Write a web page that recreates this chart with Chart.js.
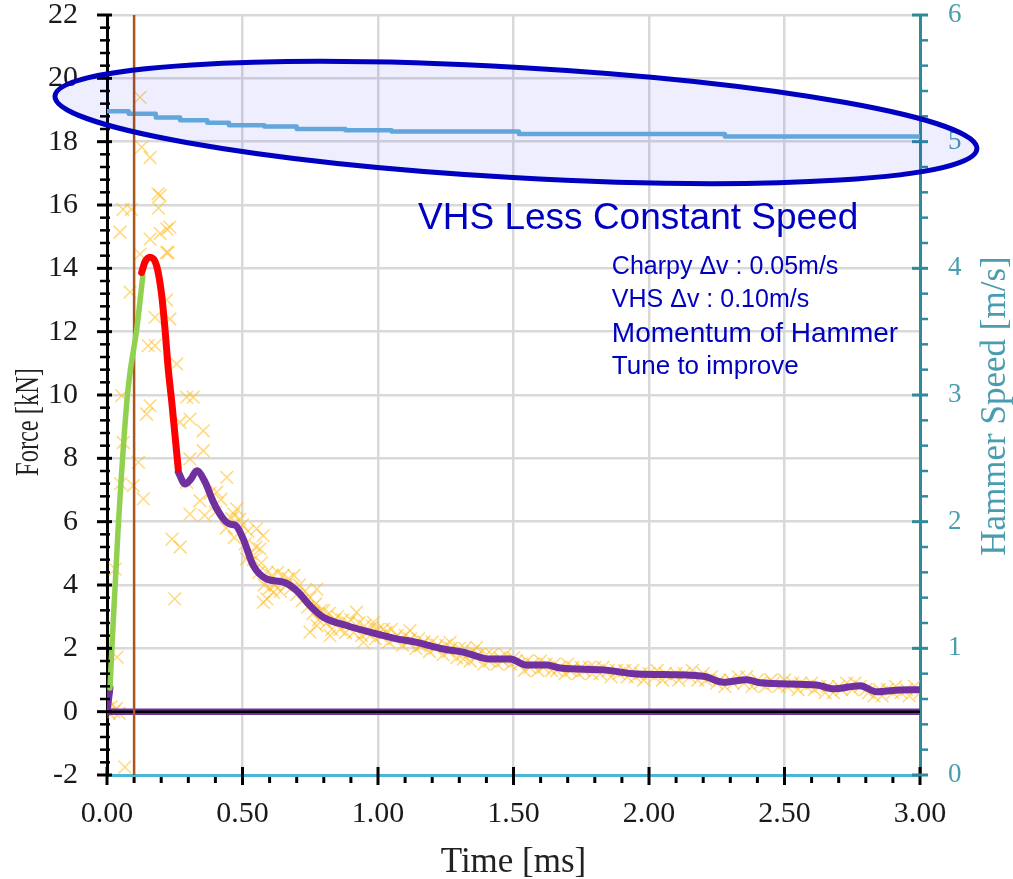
<!DOCTYPE html>
<html>
<head>
<meta charset="utf-8">
<script src="https://cdn.jsdelivr.net/npm/chart.js@4/dist/chart.umd.min.js"></script>
<style>
html,body{margin:0;padding:0;background:#fff;}
#wrap{width:1013px;height:879px;position:relative;}
</style>
</head>
<body>
<div id="wrap"><canvas id="c"></canvas></div>
<script>
// ---------- DATA ----------
const timeTicks = [0, 0.5, 1.0, 1.5, 2.0, 2.5, 3.0];
const forceRange = [-2, 22];
const speedRange = [0, 6];

// hammer speed (m/s) – level starts at given time (ms)
const speedT = [0, 0.08, 0.18, 0.27, 0.37, 0.45, 0.58, 0.70, 0.88, 1.05, 1.52, 2.28, 3.0];
const speedV = [5.24, 5.22, 5.19, 5.17, 5.15, 5.13, 5.12, 5.10, 5.09, 5.08, 5.06, 5.04, 5.04];

// fitted force curve segments (kN)
const purpleHeadT = [0, 0.011];
const purpleHeadF = [0, 0.75];
const greenT = [0.011, 0.018, 0.041, 0.074, 0.085, 0.11, 0.132];
const greenF = [0.75, 2.0, 5.77, 9.87, 10.7, 12.1, 13.75];
const redT = [0.128, 0.14, 0.159, 0.183, 0.202, 0.214, 0.226, 0.239, 0.251, 0.263];
const redF = [13.87, 14.2, 14.35, 14.08, 13.14, 12.08, 10.82, 9.78, 8.72, 7.66];
const purpleT = [0.263, 0.288, 0.31, 0.331, 0.362, 0.393, 0.430, 0.454, 0.475, 0.503, 0.540, 0.589, 0.651, 0.700, 0.749, 0.798, 0.884, 0.970, 1.069, 1.143, 1.241, 1.315, 1.339, 1.413, 1.487, 1.549, 1.623, 1.672, 1.832, 1.955, 2.200, 2.274, 2.361, 2.410, 2.619, 2.680, 2.779, 2.840, 2.914, 3.0];
const purpleF = [7.57, 7.19, 7.35, 7.61, 7.25, 6.61, 6.08, 5.92, 5.88, 5.45, 4.61, 4.19, 4.09, 3.82, 3.35, 2.98, 2.72, 2.51, 2.30, 2.19, 1.98, 1.88, 1.82, 1.66, 1.66, 1.47, 1.47, 1.38, 1.32, 1.19, 1.12, 0.93, 1.01, 0.91, 0.84, 0.72, 0.82, 0.63, 0.68, 0.69];

const zeroLineT = [0, 3.0];
const zeroLineF = [0, 0];
const markerT = [0.1, 0.1];
const markerF = [-2, 22];

// raw measured samples [time ms, force kN]
const rawEarly = [[0.002,0.1],[0.008,-0.05],[0.015,0.15],[0.025,0.0],[0.035,0.1],[0.045,-0.05],[0.037,1.72],[0.066,-1.75],
 [0.03,4.5],[0.05,7.2],[0.06,8.5],[0.048,15.14],[0.159,14.92],[0.22,14.5],[0.196,15.1],[0.22,13.0],[0.177,12.45],[0.232,12.4],
 [0.152,11.56],[0.177,11.56],[0.257,10.98],[0.085,13.25],[0.054,9.98],[0.159,9.66],[0.146,9.4],[0.294,9.93],[0.318,9.93],
 [0.306,9.24],[0.269,9.14],[0.355,8.87],[0.116,7.87],[0.097,7.14],[0.134,6.72],[0.306,7.98],[0.355,8.24],[0.294,7.24],
 [0.343,6.66],[0.306,6.24],[0.442,7.4],[0.405,6.93],[0.479,6.4],[0.468,6.24],[0.49,6.08],[0.122,19.4],[0.128,17.83],
 [0.159,17.5],[0.188,16.35],[0.196,16.3],[0.19,15.9],[0.059,15.86],[0.09,15.86],[0.221,15.24],[0.232,15.3],[0.225,14.5],
 [0.122,14.45],[0.24,5.45],[0.25,3.56],[0.27,5.2],[0.36,6.2],[0.38,6.9],[0.40,6.3],[0.42,6.7],[0.44,5.8],[0.46,6.1],[0.47,5.5]];
const rawMid = [[0.50,5.9],[0.51,5.3],[0.52,5.7],[0.53,5.0],[0.54,4.8],[0.55,5.2],[0.56,4.4],[0.57,4.7],[0.58,4.0],[0.59,4.4],
 [0.60,3.9],[0.61,4.3],[0.62,4.0],[0.63,4.4],[0.64,3.8],[0.65,4.3],[0.66,4.0],[0.67,4.2],[0.68,3.9],[0.69,4.3],[0.70,3.7],
 [0.71,4.0],[0.72,3.5],[0.73,3.8],[0.74,3.3],[0.75,3.6],[0.76,3.1],[0.77,3.4],[0.78,2.9],[0.79,3.2],
 [0.552,5.77],[0.576,5.56],[0.565,5.14],[0.515,4.82],[0.577,3.45],[0.59,3.56],[0.614,3.77],[0.774,3.87],[0.774,2.72],
 [0.749,2.51],[0.823,2.4],[0.921,3.14],[0.983,2.82],[0.946,2.19],[1.02,2.61],[1.118,2.56],[1.155,2.08],[1.266,2.19],
 [1.315,1.66],[1.364,2.03]];
const rawLate = [[0.80,3.2],[0.81,2.8],[0.82,3.1],[0.83,2.6],[0.84,2.9],[0.85,3.0],[0.86,2.6],[0.87,2.9],[0.88,2.5],[0.89,2.8],
 [0.90,2.9],[0.91,2.5],[0.93,2.8],[0.94,2.4],[0.95,2.7],[0.96,2.5],[0.98,2.7],[0.99,2.3],[1.00,2.6],[1.01,2.4],[1.03,2.5],
 [1.04,2.2],[1.05,2.6],[1.06,2.3],[1.07,2.4],[1.09,2.1],[1.10,2.4],[1.11,2.2],[1.12,2.3],[1.14,2.0],[1.15,2.3],[1.16,2.1],
 [1.17,2.2],[1.19,1.9],[1.20,2.2],[1.21,2.0],[1.22,2.1],[1.24,1.8],[1.25,2.1],[1.26,1.9],[1.27,2.0],[1.29,1.7],[1.30,2.0],
 [1.31,1.8],[1.32,2.0],[1.34,1.6],[1.35,1.9],[1.36,1.7],[1.37,1.8],[1.39,1.5],[1.40,1.8],[1.41,1.6],[1.42,1.8],[1.44,1.5],
 [1.45,1.7],[1.46,1.6],[1.47,1.8],[1.49,1.5],[1.50,1.7],[1.51,1.6],[1.52,1.5],[1.54,1.3],[1.55,1.6],[1.56,1.4],[1.57,1.5],
 [1.59,1.3],[1.60,1.6],[1.61,1.4],[1.62,1.5],[1.64,1.3],[1.65,1.5],[1.66,1.3],[1.67,1.4],[1.69,1.2],[1.70,1.5],[1.71,1.3],
 [1.72,1.4],[1.74,1.2],[1.75,1.4],[1.76,1.3],[1.78,1.4],[1.79,1.2],[1.80,1.4],[1.82,1.2],[1.83,1.4],[1.85,1.3],[1.86,1.1],
 [1.88,1.3],[1.89,1.2],[1.91,1.3],[1.92,1.1],[1.94,1.3],[1.95,1.1],[1.97,1.2],[1.98,1.0],[2.00,1.2],[2.02,1.1],[2.03,1.3],
 [2.05,1.0],[2.06,1.2],[2.08,1.1],[2.10,1.2],[2.11,1.0],[2.13,1.2],[2.15,1.1],[2.16,1.3],[2.18,1.0],[2.20,1.2],[2.21,1.0],
 [2.23,1.1],[2.25,0.9],[2.26,1.0],[2.28,0.8],[2.30,1.0],[2.31,0.9],[2.33,1.1],[2.35,0.9],[2.36,1.1],[2.38,0.8],[2.40,1.0],
 [2.41,0.9],[2.43,0.8],[2.45,1.0],[2.46,0.9],[2.48,0.8],[2.50,1.0],[2.51,0.8],[2.53,0.9],[2.55,0.7],[2.56,0.9],[2.58,0.8],
 [2.60,0.9],[2.61,0.7],[2.63,0.8],[2.65,0.6],[2.66,0.8],[2.68,0.6],[2.70,0.8],[2.71,0.7],[2.73,0.9],[2.75,0.7],[2.76,0.9],
 [2.78,0.8],[2.80,0.7],[2.81,0.6],[2.83,0.5],[2.85,0.7],[2.86,0.5],[2.88,0.7],[2.90,0.6],[2.91,0.8],[2.93,0.6],[2.95,0.7],
 [2.96,0.5],[2.98,0.8],[3.00,0.6]];

// ---------- helpers ----------
const xy = (ts, fs) => ts.map((t, i) => ({x: t, y: fs[i]}));
const pairs = arr => arr.map(p => ({x: p[0], y: p[1]}));

const SERIF = "'Liberation Serif','Times New Roman',serif";
const SANS = "'Liberation Sans',Arial,sans-serif";
const TEAL = '#2f8b9c';
const TEAL_TXT = '#4a9db0';

const noPad = s => { s.paddingTop = 0; s.paddingBottom = 0; s.paddingLeft = 0; s.paddingRight = 0; };

// ---------- plugins ----------
const axisTicks = {
  id: 'axisTicks',
  afterDatasetsDraw(chart) {
    const {ctx, scales: {x, y, y2}} = chart;
    ctx.save();
    ctx.lineCap = 'butt';
    ctx.strokeStyle = '#000';
    const L = y.right;
    for (let i = 0; i <= 60; i++) {
      const v = forceRange[0] + i * 0.4;
      const p = y.getPixelForValue(v);
      const major = i % 5 === 0;
      ctx.lineWidth = major ? 3 : 2.5;
      ctx.beginPath();
      ctx.moveTo(L - (major ? 10 : 7), p);
      ctx.lineTo(L + (major ? 5 : 3), p);
      ctx.stroke();
    }
    const B = x.top;
    for (let i = 0; i <= 30; i++) {
      const v = i * 0.1;
      const p = x.getPixelForValue(v);
      const major = i % 5 === 0;
      ctx.lineWidth = 3;
      ctx.beginPath();
      if (major) { ctx.moveTo(p, B - 8); ctx.lineTo(p, B + 10); }
      else { ctx.moveTo(p, B + 2); ctx.lineTo(p, B + 8); }
      ctx.stroke();
    }
    ctx.strokeStyle = TEAL;
    const R = y2.left;
    for (let i = 0; i <= 30; i++) {
      const v = i * 0.2;
      const p = y2.getPixelForValue(v);
      const major = i % 5 === 0;
      ctx.lineWidth = major ? 3 : 2.5;
      ctx.beginPath();
      ctx.moveTo(R - (major ? 8 : 0), p);
      ctx.lineTo(R + 8, p);
      ctx.stroke();
    }
    ctx.restore();
  }
};

const overlay = {
  id: 'overlay',
  afterDraw(chart, args, opts) {
    const {ctx, scales: {x, y}, chartArea} = chart;
    ctx.save();
    const e = opts.ellipse;
    const x1 = x.getPixelForValue(e.leftTip[0]), y1 = y.getPixelForValue(e.leftTip[1]);
    const x2 = x.getPixelForValue(e.rightTip[0]), y2p = y.getPixelForValue(e.rightTip[1]);
    const cx = (x1 + x2) / 2, cy = (y1 + y2p) / 2;
    const a = Math.hypot(x2 - x1, y2p - y1) / 2;
    const b = Math.abs(y.getPixelForValue(0) - y.getPixelForValue(e.halfHeight));
    const ang = Math.atan2(y2p - y1, x2 - x1);
    ctx.beginPath();
    ctx.ellipse(cx, cy, a, b, ang, 0, Math.PI * 2);
    ctx.fillStyle = 'rgba(0,0,255,0.066)';
    ctx.fill();
    ctx.lineWidth = 5;
    ctx.strokeStyle = '#0000c0';
    ctx.stroke();

    ctx.fillStyle = '#0000c0';
    ctx.textBaseline = 'alphabetic';
    ctx.textAlign = 'left';
    opts.notes.forEach(n => {
      ctx.font = n.size + 'px ' + SANS;
      ctx.fillText(n.text, x.getPixelForValue(n.t), y.getPixelForValue(n.f));
    });

    const midX = (chartArea.left + chartArea.right) / 2;
    ctx.fillStyle = '#222';
    ctx.textAlign = 'center';
    ctx.font = '35px ' + SERIF;
    ctx.fillText('Time [ms]', midX, 872);

    ctx.save();
    ctx.translate(38, 422);
    ctx.rotate(-Math.PI / 2);
    ctx.scale(0.74, 1);
    ctx.font = '33px ' + SERIF;
    ctx.fillStyle = '#222';
    ctx.fillText('Force [kN]', 0, 0);
    ctx.restore();

    ctx.save();
    ctx.translate(1005, 406);
    ctx.rotate(-Math.PI / 2);
    ctx.font = '35px ' + SERIF;
    ctx.fillStyle = TEAL_TXT;
    ctx.fillText('Hammer Speed [m/s]', 0, 0);
    ctx.restore();

    ctx.restore();
  }
};

const lineDs = (data, color, width, order, extra) => Object.assign({
  type: 'line', data, borderColor: color, backgroundColor: color, borderWidth: width,
  pointRadius: 0, pointHoverRadius: 0, fill: false, order, yAxisID: 'y',
  borderCapStyle: 'round', borderJoinStyle: 'round'
}, extra || {});

new Chart(document.getElementById('c'), {
  type: 'line',
  data: {
    datasets: [
      {
        type: 'scatter', label: 'raw', data: pairs(rawEarly.concat(rawMid, rawLate)),
        pointStyle: 'crossRot', pointRadius: 9, pointBorderWidth: 1.5, borderWidth: 1.5,
        borderColor: 'rgba(255,186,20,0.55)', backgroundColor: 'rgba(255,186,20,0.55)',
        showLine: false, order: 20, yAxisID: 'y'
      },
      lineDs(xy(speedT, speedV), '#6ab2d8', 4.5, 9, {yAxisID: 'y2', stepped: true, borderCapStyle: 'butt'}),
      lineDs(xy(zeroLineT, zeroLineF), '#7030a0', 6.5, 8, {borderCapStyle: 'butt'}),
      lineDs(xy(zeroLineT, zeroLineF), '#000000', 2.5, 7, {borderCapStyle: 'butt'}),
      lineDs(xy(markerT, markerF), '#a8561c', 2.5, 6, {borderCapStyle: 'butt'}),
      lineDs(xy(purpleHeadT, purpleHeadF).concat([{x: 0.05, y: null}], xy(purpleT, purpleF)), '#7030a0', 7, 5,
        {spanGaps: false, cubicInterpolationMode: 'monotone'}),
      lineDs(xy(greenT, greenF), '#92d050', 5.5, 4, {cubicInterpolationMode: 'monotone'}),
      lineDs(xy(redT, redF), '#ff0000', 7, 3, {cubicInterpolationMode: 'monotone'})
    ]
  },
  options: {
    responsive: true,
    maintainAspectRatio: false,
    animation: false,
    devicePixelRatio: 1,
    layout: {padding: {top: 15, left: 0, right: 0, bottom: 0}},
    plugins: {
      legend: {display: false},
      tooltip: {enabled: false},
      overlay: {
        ellipse: {leftTip: [-0.192, 19.44], rightTip: [3.21, 17.77], halfHeight: 1.74},
        notes: [
          {text: 'VHS Less Constant Speed', t: 1.148, f: 15.24, size: 37},
          {text: 'Charpy \u0394v : 0.05m/s', t: 1.863, f: 13.82, size: 25},
          {text: 'VHS \u0394v : 0.10m/s', t: 1.863, f: 12.78, size: 25},
          {text: 'Momentum of Hammer', t: 1.863, f: 11.67, size: 28},
          {text: 'Tune to improve', t: 1.863, f: 10.66, size: 26}
        ]
      }
    },
    scales: {
      x: {
        type: 'linear', min: timeTicks[0], max: timeTicks[timeTicks.length - 1],
        afterBuildTicks: s => { s.ticks = timeTicks.map(v => ({value: v})); },
        afterFit: s => { s.height = 104; noPad(s); },
        grid: {color: '#d9d9d9', lineWidth: 2.5, drawTicks: false},
        border: {color: '#4db5d6', width: 3},
        ticks: {padding: 21, color: '#1a1a1a', font: {family: SERIF, size: 30}, maxRotation: 0,
          callback: v => Number(v).toFixed(2)}
      },
      y: {
        position: 'left', min: forceRange[0], max: forceRange[1],
        afterFit: s => { s.width = 107; noPad(s); },
        grid: {color: '#d9d9d9', lineWidth: 2.5, drawTicks: false},
        border: {color: '#000', width: 3},
        ticks: {stepSize: 2, padding: 29, color: '#1a1a1a', font: {family: SERIF, size: 30}}
      },
      y2: {
        position: 'right', min: speedRange[0], max: speedRange[1],
        afterFit: s => { s.width = 93; noPad(s); },
        grid: {display: false, drawTicks: false},
        border: {color: TEAL, width: 3},
        ticks: {stepSize: 1, padding: 28, color: TEAL_TXT, font: {family: SERIF, size: 27}}
      }
    }
  },
  plugins: [axisTicks, overlay]
});
</script>
</body>
</html>
